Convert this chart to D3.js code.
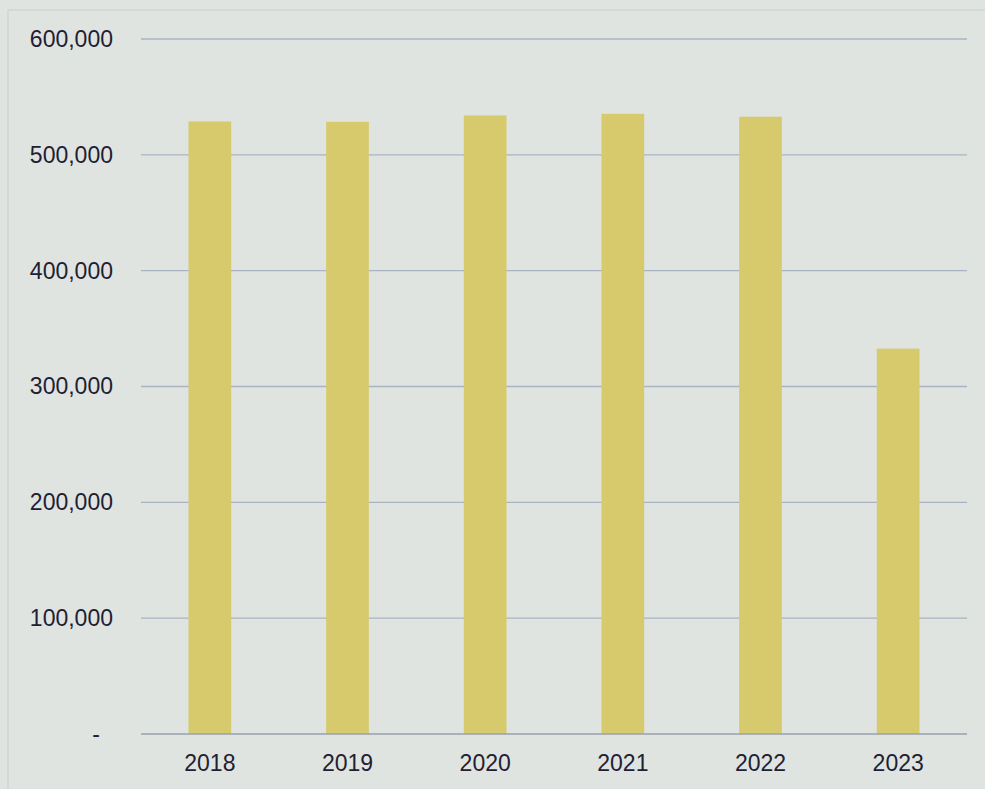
<!DOCTYPE html>
<html><head><meta charset="utf-8">
<script src="https://cdn.jsdelivr.net/npm/d3@7"></script>
<style>html,body{margin:0;padding:0;background:#dfe4e0;}svg{display:block;}</style>
</head><body>
<script>
const categories = ["2018","2019","2020","2021","2022","2023"];
const values = [528800, 528500, 534000, 535400, 532900, 332700];
const yTicks = [0, 100000, 200000, 300000, 400000, 500000, 600000];

const W = 985, H = 789;
const svg = d3.select("body").append("svg").attr("width", W).attr("height", H);
svg.append("rect").attr("width", W).attr("height", H).attr("fill", "#dfe4e0");
svg.append("rect").attr("x", 8).attr("y", 10).attr("width", W + 10).attr("height", H + 10)
  .attr("fill", "none").attr("stroke", "#c8cdd0").attr("stroke-width", 1);

const x = d3.scaleBand().domain(categories).range([141, 967]).paddingInner(0.69).paddingOuter(0.345);
const y = d3.scaleLinear().domain([0, 600000]).range([734, 39]);

const fmt = d => d === 0 ? "-" : d3.format(",")(d);

// gridlines
svg.append("g").selectAll("line").data(yTicks.filter(d => d > 0)).join("line")
  .attr("x1", 141).attr("x2", 967).attr("y1", d => y(d)).attr("y2", d => y(d))
  .attr("stroke", "#aab3c4").attr("stroke-width", 1.3);

// bars
svg.append("g").selectAll("rect").data(values).join("rect")
  .attr("x", (d, i) => x(categories[i])).attr("width", x.bandwidth())
  .attr("y", d => y(d)).attr("height", d => y(0) - y(d))
  .attr("fill", "#d6ca6c");

// baseline
svg.append("line").attr("x1", 141).attr("x2", 967).attr("y1", y(0)).attr("y2", y(0))
  .attr("stroke", "#9aa0ab").attr("stroke-width", 1.5);

// y axis labels
const yAxis = d3.axisLeft(y).tickValues(yTicks).tickFormat(fmt).tickSize(0).tickPadding(0);
const gy = svg.append("g").attr("transform", "translate(113,0)").call(yAxis);
gy.select(".domain").remove();
gy.selectAll("text").attr("font-family", "Liberation Sans, Arial, sans-serif")
  .attr("font-size", 23).attr("fill", "#1f2033")
  .attr("dx", d => d === 0 ? -13 : 0);

// x axis labels
const xAxis = d3.axisBottom(x).tickSize(0).tickPadding(0);
const gx = svg.append("g").attr("transform", "translate(0,755)").call(xAxis);
gx.select(".domain").remove();
gx.selectAll("text").attr("font-family", "Liberation Sans, Arial, sans-serif")
  .attr("font-size", 23).attr("fill", "#1f2033").attr("dy", "0.71em");
</script>
</body></html>
